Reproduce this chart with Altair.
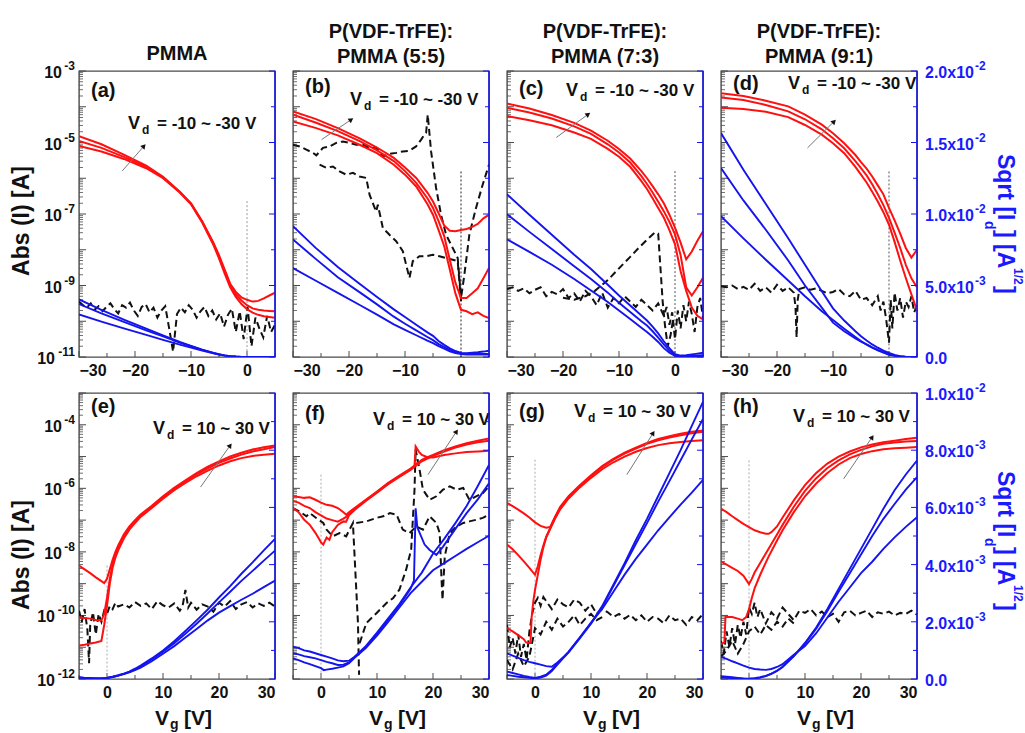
import math
import altair as alt
import pandas as pd

# ---------------------------------------------------------------- layout / style
W, H = 196, 286
FONT = "Liberation Sans"
RED = "#ff1010"
BLUE = "#1414ee"
LBLUE = "#1a1aff"
BLACK = "#111111"
FRAME = "#4a4a4a"

# ---------------------------------------------------------------- data
# gate voltage grids
TOP_V = [-30, -26, -22, -18, -15, -12, -10, -8, -6, -5, -4, -3, -2, -1, 0, 1, 2, 3, 4, 5]
BOT_V = [-5, -4, -3, -2, -1, 0, 1, 2, 3, 4, 5, 6, 8, 10, 12, 14, 16, 18, 20, 22, 24, 26, 28, 30]

# red curves: log10 |I| (A);  blue curves: sqrt(I) in 1e-3 A^1/2;  black dashed: log10 |Ig|
# (a) PMMA, Vd = -10 ~ -30 V
A_RED_30 = [-4.82, -5.05, -5.34, -5.65, -5.96, -6.38, -6.70, -7.20, -7.80, -8.15, -8.55, -8.95, -9.18, -9.33, -9.40, -9.45, -9.43, -9.36, -9.28, -9.20]
A_RED_20 = [-4.96, -5.15, -5.40, -5.68, -5.97, -6.39, -6.71, -7.22, -7.83, -8.20, -8.60, -9.00, -9.25, -9.42, -9.55, -9.64, -9.68, -9.70, -9.71, -9.72]
A_RED_10 = [-5.10, -5.25, -5.46, -5.72, -6.00, -6.40, -6.73, -7.24, -7.86, -8.24, -8.66, -9.05, -9.32, -9.52, -9.66, -9.76, -9.82, -9.86, -9.88, -9.90]
A_BLUE_30 = [4.03, 3.30, 2.62, 1.98, 1.52, 1.05, 0.78, 0.52, 0.29, 0.19, 0.11, 0.06, 0.03, 0.01, 0, 0, 0, 0, 0, 0]
A_BLUE_20 = [3.70, 3.05, 2.45, 1.86, 1.44, 1.00, 0.75, 0.50, 0.28, 0.18, 0.11, 0.06, 0.03, 0.01, 0, 0, 0, 0, 0, 0]
A_BLUE_10 = [2.98, 2.48, 2.00, 1.55, 1.20, 0.86, 0.66, 0.45, 0.25, 0.17, 0.10, 0.05, 0.02, 0.01, 0, 0, 0, 0, 0, 0]
A_BLK_V = [-30, -29.3, -28.6, -27.9, -27.2, -26.5, -25.8, -25.1, -24.4, -23.7, -23, -22.3, -21.6, -20.9, -20.2, -19.5, -18.8,
           -18.1, -17.4, -16.7, -16, -15.3, -14.6, -13.9, -13.2, -12.5, -11.8, -11.1, -10.4, -9.7, -9, -8.3, -7.6, -6.9,
           -6.2, -5.5, -4.8, -4.1, -3.4, -2.7, -2, -1.3, -0.6, 0.1, 0.8, 1.5, 2.2, 2.9, 3.6, 4.3, 5]
A_BLK = [-9.45, -9.55, -9.62, -9.50, -9.68, -9.58, -9.72, -9.60, -9.50, -9.66, -9.78, -9.55, -9.62, -9.48, -9.70, -9.85,
         -9.60, -9.52, -9.75, -9.62, -9.90, -9.70, -9.58, -10.2, -10.85, -9.80, -9.62, -9.75, -9.55, -9.68, -9.90, -9.72,
         -9.60, -9.85, -9.70, -9.95, -9.78, -10.15, -9.82, -9.65, -10.3, -9.72, -10.5, -9.60, -10.7, -9.9, -10.2, -10.45,
         -9.85, -10.3, -10.1]

# (b) 5:5
B_RED_30 = [-4.13, -4.34, -4.60, -4.89, -5.14, -5.43, -5.70, -5.99, -6.40, -6.65, -6.98, -7.32, -7.47, -7.48, -7.45, -7.42, -7.36, -7.28, -7.12, -7.02]
B_RED_20 = [-4.22, -4.44, -4.68, -4.97, -5.22, -5.52, -5.80, -6.13, -6.56, -6.83, -7.20, -7.62, -8.28, -8.92, -9.35, -9.35, -9.22, -9.08, -8.80, -8.51]
B_RED_10 = [-4.41, -4.59, -4.80, -5.07, -5.30, -5.62, -5.90, -6.23, -6.72, -7.02, -7.45, -7.90, -8.55, -9.22, -9.68, -9.72, -9.80, -9.75, -9.85, -9.91]
B_BLUE_30 = [9.14, 7.65, 6.30, 5.08, 4.20, 3.33, 2.80, 2.25, 1.72, 1.48, 1.12, 0.85, 0.60, 0.42, 0.28, 0.27, 0.30, 0.33, 0.38, 0.44]
B_BLUE_20 = [8.21, 6.88, 5.58, 4.50, 3.68, 2.82, 2.33, 1.86, 1.40, 1.18, 0.90, 0.70, 0.48, 0.35, 0.25, 0.22, 0.22, 0.22, 0.22, 0.22]
B_BLUE_10 = [6.22, 5.35, 4.48, 3.62, 2.96, 2.28, 1.90, 1.52, 1.15, 0.97, 0.76, 0.58, 0.40, 0.28, 0.20, 0.18, 0.18, 0.18, 0.18, 0.18]
B_BLK1_V = [-30.0, -28.81, -27.62, -26.43, -25.84, -24.65, -23.46, -22.28, -21.09, -19.90, -18.71, -17.52, -16.33, -15.15,
            -13.96, -12.77, -11.58, -10.39, -9.20, -8.02, -7.12, -6.53, -6.23, -5.94, -5.34, -4.45, -3.56, -2.67, -1.48,
            -0.59, 0.01, 0.60, 1.49, 2.68, 3.87, 5.0]
B_BLK1 = [-5.06, -5.11, -5.20, -5.29, -5.36, -5.15, -5.11, -5.01, -4.97, -5.01, -5.06, -5.06, -5.15, -5.15, -5.39, -5.32,
          -5.29, -5.25, -5.23, -5.11, -4.92, -4.78, -4.73, -4.22, -5.25, -6.27, -7.02, -7.58, -7.95, -8.23, -9.35, -8.70,
          -7.58, -6.83, -6.18, -5.62]
B_BLK2_V = [-25.25, -24.06, -22.87, -21.68, -20.49, -19.30, -18.12, -16.93, -16.33, -15.15, -14.85, -13.96, -12.77, -11.58,
            -10.39, -9.80, -9.20, -8.61, -7.42, -6.23, -5.04, -3.86, -2.67, -1.48, -0.59, 0.01]
B_BLK2 = [-5.62, -5.71, -5.67, -5.81, -5.90, -5.85, -5.95, -5.99, -6.46, -6.93, -6.74, -7.39, -7.58, -7.76, -8.04, -8.42,
          -8.79, -8.32, -8.18, -8.18, -8.14, -8.18, -8.23, -8.28, -8.32, -9.44]

# (c) 7:3
C_RED_30 = [-3.91, -4.05, -4.23, -4.45, -4.67, -4.95, -5.18, -5.45, -5.80, -6.00, -6.22, -6.45, -6.70, -7.02, -7.38, -7.80, -8.27, -8.05, -7.75, -7.48]
C_RED_20 = [-4.03, -4.16, -4.33, -4.55, -4.76, -5.05, -5.28, -5.56, -5.94, -6.16, -6.40, -6.66, -6.92, -7.22, -7.57, -8.15, -9.05, -9.28, -9.05, -8.78]
C_RED_10 = [-4.26, -4.38, -4.52, -4.72, -4.90, -5.18, -5.40, -5.68, -6.08, -6.30, -6.56, -6.83, -7.10, -7.45, -7.85, -8.60, -9.15, -9.62, -9.85, -9.95]
C_BLUE_30 = [11.38, 9.95, 8.55, 7.15, 6.15, 5.05, 4.30, 3.60, 2.90, 2.55, 2.12, 1.65, 1.10, 0.62, 0.19, 0.10, 0.12, 0.18, 0.24, 0.30]
C_BLUE_20 = [9.98, 8.75, 7.55, 6.35, 5.45, 4.50, 3.80, 3.15, 2.50, 2.20, 1.80, 1.35, 0.88, 0.45, 0.12, 0.06, 0.06, 0.08, 0.10, 0.12]
C_BLUE_10 = [8.23, 7.35, 6.45, 5.45, 4.65, 3.85, 3.25, 2.65, 2.05, 1.75, 1.42, 1.05, 0.62, 0.30, 0.08, 0.04, 0.04, 0.05, 0.06, 0.08]
C_BLK1_V = [-30, -29, -28, -27, -26, -25, -24, -23, -22, -21, -20, -19, -18, -17, -16, -15, -14, -13, -12, -11, -10, -9, -8,
            -7, -6, -5, -4, -3, -2, -1.5, -1, -0.5, 0, 0.5, 1, 1.5, 2, 2.5, 3, 3.5, 4, 4.5, 5]
C_BLK1 = [-9.10, -9.05, -9.15, -9.08, -9.22, -9.12, -9.05, -9.30, -9.18, -9.25, -9.10, -9.35, -9.22, -9.45, -9.15, -9.30,
          -9.55, -9.20, -9.62, -9.35, -9.50, -9.30, -9.45, -9.60, -9.40, -9.55, -9.70, -9.50, -9.85, -9.60, -10.1, -9.75,
          -10.5, -9.70, -10.2, -9.55, -10.0, -9.45, -9.80, -10.3, -9.60, -9.35, -9.90]
C_BLK2_V = [-20, -18, -16, -14.3, -12, -10, -8, -6.5, -5, -3.6, -3.0, -2.6, -2.2, -1.8, -1.3, -0.8, -0.3]
C_BLK2 = [-9.34, -9.40, -9.30, -9.15, -8.85, -8.52, -8.20, -7.95, -7.72, -7.52, -7.55, -8.50, -9.45, -10.1, -10.7, -10.4, -9.9]

# (d) 9:1
D_RED_30 = [-3.62, -3.70, -3.83, -3.99, -4.22, -4.50, -4.74, -5.02, -5.35, -5.55, -5.73, -5.95, -6.20, -6.45, -6.83, -7.18, -7.55, -7.95, -8.22, -8.00]
D_RED_20 = [-3.74, -3.81, -3.95, -4.13, -4.35, -4.63, -4.88, -5.16, -5.52, -5.72, -5.92, -6.17, -6.45, -6.75, -7.11, -7.52, -7.95, -8.42, -8.80, -9.05]
D_RED_10 = [-4.03, -4.06, -4.14, -4.29, -4.51, -4.78, -5.02, -5.30, -5.68, -5.90, -6.12, -6.38, -6.65, -6.95, -7.30, -7.78, -8.30, -8.79, -9.25, -9.70]
D_BLUE_30 = [15.66, 13.10, 10.70, 8.30, 6.45, 4.60, 3.40, 2.55, 1.80, 1.45, 1.15, 0.88, 0.65, 0.45, 0.28, 0.14, 0.06, 0.02, 0, 0]
D_BLUE_20 = [13.22, 10.95, 8.90, 6.75, 5.00, 3.45, 2.40, 1.80, 1.30, 1.08, 0.88, 0.68, 0.50, 0.34, 0.21, 0.10, 0.04, 0.01, 0, 0]
D_BLUE_10 = [9.84, 8.30, 6.80, 5.35, 4.25, 3.20, 2.58, 1.98, 1.40, 1.12, 0.86, 0.65, 0.47, 0.30, 0.16, 0.08, 0.03, 0.01, 0, 0]
D_BLK_V = [-30, -29, -28, -27, -26, -25, -24, -23, -22, -21, -20, -19, -18, -17, -16.7, -16.5, -16.3, -16, -15, -14, -13,
           -12, -11, -10, -9, -8, -7, -6, -5, -4, -3, -2, -1.5, -1, -0.5, 0, 0.3, 0.6, 1, 1.5, 2, 2.5, 3, 3.5, 4, 4.5, 5]
D_BLK = [-9.02, -9.05, -9.00, -9.10, -9.04, -9.12, -8.95, -9.15, -9.05, -9.20, -8.98, -9.15, -9.05, -9.20, -9.60, -10.45,
         -9.40, -9.10, -9.05, -9.12, -9.08, -9.15, -9.22, -9.18, -9.10, -9.25, -9.30, -9.15, -9.40, -9.35, -9.55, -9.30,
         -9.70, -9.45, -9.95, -10.6, -9.40, -10.2, -9.20, -9.70, -9.35, -9.90, -9.45, -9.60, -9.30, -9.75, -9.55]

# (e) PMMA, Vd = 10 ~ 30 V
E_RED_V = [-5, -4, -3, -2, -1, -0.5, 0, 0.5, 1, 1.5, 2, 3, 4, 5, 6, 8, 10, 12, 14, 16, 18, 20, 22, 24, 26, 28, 30]
E_RED_30 = [-8.43, -8.55, -8.67, -8.80, -8.92, -8.98, -8.85, -8.55, -8.25, -8.00, -7.80, -7.45, -7.20, -7.00, -6.82, -6.55,
            -6.25, -5.98, -5.75, -5.52, -5.32, -5.15, -5.00, -4.88, -4.78, -4.71, -4.65]
E_RED_20 = [-10.06, -10.08, -10.10, -10.14, -10.16, -9.95, -9.45, -8.85, -8.40, -8.10, -7.88, -7.52, -7.25, -7.04, -6.86,
            -6.58, -6.28, -6.01, -5.78, -5.56, -5.37, -5.20, -5.06, -4.94, -4.84, -4.77, -4.70]
E_RED_10 = [-10.95, -10.92, -10.88, -10.85, -10.80, -10.30, -9.70, -9.00, -8.50, -8.18, -7.95, -7.58, -7.30, -7.09, -6.90,
            -6.62, -6.33, -6.06, -5.83, -5.62, -5.44, -5.28, -5.15, -5.05, -4.98, -4.94, -4.91]
E_BLUE_30 = [0.05, 0.04, 0.03, 0.02, 0.02, 0.04, 0.08, 0.13, 0.19, 0.26, 0.36, 0.47, 0.72, 1.00, 1.32, 1.68, 2.05, 2.43, 2.85, 3.25, 3.68, 4.08, 4.50, 4.90]
E_BLUE_20 = [0.05, 0.04, 0.03, 0.02, 0.02, 0.04, 0.07, 0.12, 0.18, 0.25, 0.34, 0.44, 0.68, 0.95, 1.25, 1.58, 1.93, 2.30, 2.68, 3.05, 3.43, 3.78, 4.14, 4.49]
E_BLUE_10 = [0.05, 0.04, 0.03, 0.02, 0.02, 0.04, 0.07, 0.12, 0.17, 0.23, 0.31, 0.40, 0.62, 0.88, 1.15, 1.45, 1.75, 2.05, 2.32, 2.55, 2.77, 2.98, 3.21, 3.44]
E_BLK_V = [-5, -4.5, -4, -3.5, -3.2, -3, -2.5, -2, -1.5, -1, -0.5, 0, 0.5, 1, 1.5, 2, 3, 4, 5, 6, 7, 8, 9, 10, 11, 12, 13,
           13.5, 14, 14.5, 15, 16, 17, 18, 19, 20, 21, 22, 23, 24, 25, 26, 27, 28, 29, 30]
E_BLK = [-9.85, -10.20, -9.80, -10.45, -11.50, -10.30, -9.90, -10.60, -9.95, -10.20, -9.85, -9.95, -9.70, -9.80, -9.60,
         -9.72, -9.65, -9.75, -9.58, -9.70, -9.62, -9.80, -9.55, -9.68, -9.75, -9.62, -9.85, -9.70, -9.20, -9.75, -9.60,
         -9.82, -9.65, -9.72, -9.88, -9.60, -9.72, -9.55, -9.80, -9.65, -9.58, -9.75, -9.62, -9.70, -9.60, -9.72]

# (f) 5:5
F_RED_UP_V = [-5, -4, -3, -2, -1, 0, 1, 2, 3, 4, 4.5, 5, 6, 8, 10, 12, 14, 16, 16.7, 17, 17.5, 18, 19, 20, 22, 24, 26, 28, 30]
F_RED_UP = [-6.25, -6.27, -6.30, -6.28, -6.36, -6.45, -6.52, -6.55, -6.62, -6.75, -6.83, -6.75, -6.62, -6.36, -6.10, -5.83,
            -5.60, -5.38, -5.28, -5.22, -5.18, -5.10, -5.02, -4.95, -4.80, -4.68, -4.58, -4.50, -4.43]
F_RED_MID_V = [-5, -4, -3, -2, -1, 0, 1, 2, 3, 4, 4.5, 5, 6, 8, 10, 12, 14, 16, 16.7, 16.9, 17.5, 18, 19, 20, 22, 24, 26, 28, 30]
F_RED_MID = [-6.40, -6.45, -6.55, -6.62, -6.75, -6.85, -6.95, -7.00, -7.05, -6.95, -6.90, -6.78, -6.64, -6.38, -6.12,
             -5.85, -5.62, -5.40, -5.30, -4.68, -4.85, -4.95, -5.02, -5.03, -4.95, -4.90, -4.86, -4.84, -4.82]
F_RED_LOW_V = [-5, -4, -3, -2, -1, -0.5, 0, 0.4, 1, 1.5, 2, 3, 4, 4.5, 5, 6, 8, 10, 12, 14, 16, 18, 20, 22, 24, 26, 28, 30]
F_RED_LOW = [-6.62, -6.75, -6.99, -7.15, -7.40, -7.55, -7.70, -7.77, -7.55, -7.62, -7.38, -7.15, -7.04, -7.05, -6.85,
             -6.68, -6.40, -6.14, -5.87, -5.64, -5.42, -5.15, -4.98, -4.84, -4.72, -4.62, -4.55, -4.50]
F_BLUE_UP = [1.13, 1.08, 1.00, 0.96, 0.90, 0.84, 0.78, 0.72, 0.65, 0.62, 0.64, 0.78, 1.15, 1.62, 2.12, 2.62, 3.20, 3.72, 4.38, 4.90, 5.45, 6.05, 6.75, 7.48]
F_BLUE_MID_V = [-5, -4, -3, -2, -1, 0, 1, 2, 3, 4, 5, 6, 8, 10, 12, 14, 16, 16.6, 16.9, 17.2, 17.9, 18.5, 19.4, 20.6, 21.8, 24, 26, 28, 30]
F_BLUE_MID = [0.90, 0.86, 0.80, 0.76, 0.72, 0.66, 0.60, 0.55, 0.49, 0.50, 0.58, 0.76, 1.12, 1.58, 2.08, 2.58, 3.15, 3.45,
              5.97, 5.30, 4.98, 4.70, 4.51, 4.34, 4.63, 5.25, 5.80, 6.28, 6.84]
F_BLUE_LOW_V = [-5, -4, -3, -2, -1, 0, 0.5, 1, 2, 3, 4, 5, 6, 8, 10, 12, 14, 16, 18, 20, 22, 24, 26, 28, 30]
F_BLUE_LOW = [0.72, 0.66, 0.58, 0.52, 0.45, 0.38, 0.31, 0.33, 0.36, 0.40, 0.44, 0.55, 0.74, 1.08, 1.52, 2.00, 2.50, 3.00,
              3.40, 3.80, 4.05, 4.30, 4.55, 4.78, 5.01]
F_BLK1_V = [-5, -3.8, -2.6, -2.0, -0.8, 0.4, 1.0, 2.1, 3.3, 4.5, 5.1, 5.7, 6.0, 6.3, 6.6, 6.8]
F_BLK1 = [-6.62, -6.73, -6.88, -6.78, -6.94, -7.09, -7.30, -7.51, -7.41, -7.51, -7.30, -7.09, -8.14, -9.19, -10.24, -11.87]
F_BLK2_V = [6.9, 8.1, 9.9, 11.7, 12.9, 14.0, 15.2, 16.1, 16.7, 16.9, 17.6, 18.2, 19.4, 20.6, 21.8, 23.0, 24.2, 25.4, 26.5, 27.7, 28.9, 30.0]
F_BLK2 = [-10.87, -10.24, -9.93, -9.61, -9.45, -9.19, -8.56, -7.93, -6.04, -4.78, -5.41, -6.04, -6.36, -6.25, -6.04, -5.94,
          -6.04, -5.99, -6.36, -6.25, -6.15, -5.94]
F_BLK3_V = [6.3, 8.1, 9.9, 11.1, 12.3, 13.5, 14.6, 15.8, 17.0, 18.2, 19.4, 20.6, 21.2, 21.5, 21.7, 22.1, 23.0, 24.2, 25.4, 26.5, 27.7, 28.9, 30.0]
F_BLK3 = [-7.09, -7.04, -6.93, -6.88, -6.78, -6.83, -7.30, -7.41, -7.20, -7.30, -6.88, -7.09, -7.41, -8.77, -9.51, -8.14,
          -7.41, -7.20, -7.09, -7.04, -6.99, -6.93, -6.83]

# (g) 7:3
G_RED_30_V = [-5, -4, -3, -2, -1, 0, 1, 2, 2.7, 3.5, 4.5, 6, 8, 10, 12, 14, 16, 18, 20, 22, 24, 26, 28, 30]
G_RED_30 = [-6.46, -6.56, -6.67, -6.79, -6.92, -7.07, -7.18, -7.24, -7.22, -6.92, -6.58, -6.25, -5.90, -5.59, -5.30, -5.07,
            -4.88, -4.72, -4.57, -4.45, -4.36, -4.28, -4.22, -4.18]
G_RED_20_V = [-5, -4, -3, -2, -1, 0, 0.5, 1, 1.5, 2, 2.7, 3.5, 4.5, 6, 8, 10, 12, 14, 16, 18, 20, 22, 24, 26, 28, 30]
G_RED_20 = [-7.77, -7.92, -8.10, -8.30, -8.50, -8.72, -8.45, -8.10, -7.80, -7.52, -7.26, -6.95, -6.62, -6.28, -5.93, -5.62,
            -5.33, -5.10, -4.91, -4.75, -4.60, -4.49, -4.40, -4.33, -4.27, -4.22]
G_RED_10_V = [-5, -4, -3, -2, -1.6, -1.2, -0.8, -0.6, -0.3, 0, 0.5, 1, 1.5, 2, 2.7, 3.5, 4.5, 6, 8, 10, 12, 14, 16, 18, 20,
              22, 24, 26, 28, 30]
G_RED_10 = [-10.40, -10.50, -10.62, -10.75, -10.85, -10.87, -10.87, -10.05, -9.55, -9.20, -8.72, -8.25, -7.85, -7.55,
            -7.28, -6.98, -6.66, -6.32, -5.97, -5.67, -5.40, -5.18, -5.00, -4.85, -4.73, -4.64, -4.58, -4.54, -4.51, -4.49]
G_BLUE_30 = [0.26, 0.21, 0.16, 0.11, 0.07, 0.04, 0.08, 0.15, 0.32, 0.55, 0.75, 0.95, 1.45, 1.95, 2.55, 3.30, 4.05, 4.85, 5.60, 6.40, 7.20, 8.00, 8.85, 9.69]
G_BLUE_20 = [0.14, 0.11, 0.08, 0.06, 0.04, 0.02, 0.05, 0.12, 0.28, 0.50, 0.72, 0.93, 1.42, 1.93, 2.52, 3.25, 3.98, 4.72, 5.45, 6.20, 6.92, 7.65, 8.38, 9.09]
G_BLUE_10 = [0.90, 0.82, 0.74, 0.66, 0.60, 0.55, 0.50, 0.45, 0.43, 0.58, 0.75, 0.95, 1.45, 1.97, 2.45, 3.05, 3.65, 4.20, 4.70, 5.20, 5.65, 6.10, 6.52, 6.96]
G_BLK1_V = [-5, -4.5, -4, -3.5, -3, -2.5, -2, -1.5, -1, -0.5, 0, 0.5, 1, 1.5, 2, 3, 4, 5, 6, 7, 8, 9, 10, 11, 12, 13, 14,
            15, 16, 17, 18, 19, 20, 21, 22, 23, 24, 25, 26, 27, 28, 29, 30]
G_BLK1 = [-10.30, -11.0, -10.7, -11.2, -10.6, -11.3, -10.9, -11.4, -10.5, -9.95, -9.60, -9.45, -9.70, -9.42, -9.55, -9.80,
          -9.50, -9.65, -9.75, -9.50, -9.60, -9.85, -9.65, -9.95, -9.80, -9.90, -10.05, -9.95, -10.10, -9.98, -10.15,
          -10.00, -10.20, -10.05, -10.10, -10.25, -10.00, -10.15, -10.10, -10.30, -10.05, -10.15, -9.95]
G_BLK2_V = [-5, -4, -3, -2, -1, 0, 1, 2, 3, 4, 5, 6, 7, 8, 9, 10, 11, 12]
G_BLK2 = [-11.4, -11.7, -11.2, -11.6, -11.3, -10.4, -10.6, -10.2, -10.45, -10.1, -10.35, -10.2, -10.0, -10.3, -10.1, -9.95, -10.15, -10.05]

# (h) 9:1
H_RED_30_V = [-5, -4, -3, -2, -1, 0, 1, 2, 3, 3.5, 4, 5, 6, 8, 10, 12, 14, 16, 18, 20, 22, 24, 26, 28, 30]
H_RED_30 = [-6.64, -6.75, -6.88, -7.00, -7.12, -7.22, -7.32, -7.38, -7.43, -7.43, -7.38, -7.20, -6.92, -6.38, -5.90, -5.52,
            -5.22, -5.00, -4.84, -4.71, -4.62, -4.55, -4.50, -4.45, -4.41]
H_RED_20_V = [-5, -4, -3, -2, -1, 0, 0.5, 1, 2, 3, 4, 5, 6, 8, 10, 12, 14, 16, 18, 20, 22, 24, 26, 28, 30]
H_RED_20 = [-8.31, -8.40, -8.50, -8.60, -8.75, -9.01, -8.85, -8.65, -8.35, -8.05, -7.75, -7.45, -7.15, -6.58, -6.08, -5.68,
            -5.36, -5.12, -4.93, -4.79, -4.68, -4.60, -4.56, -4.53, -4.51]
H_RED_10_V = [-5, -4.4, -4.2, -3, -2, -1.2, -0.5, 0, 0.5, 1, 2, 2.7, 3.5, 5, 6, 8, 10, 12, 14, 16, 18, 20, 22, 24, 26, 28, 30]
H_RED_10 = [-10.90, -10.85, -10.05, -10.05, -10.10, -10.15, -10.05, -9.80, -9.45, -9.15, -8.72, -8.45, -8.15, -7.64, -7.32,
            -6.75, -6.25, -5.85, -5.52, -5.25, -5.05, -4.92, -4.83, -4.77, -4.74, -4.72, -4.70]
H_BLUE_30 = [0.05, 0.04, 0.03, 0.02, 0.01, 0.00, 0.02, 0.05, 0.10, 0.18, 0.28, 0.42, 0.80, 1.26, 1.80, 2.45, 3.15, 3.85, 4.55, 5.25, 5.95, 6.60, 7.15, 7.64]
H_BLUE_20 = [0.10, 0.08, 0.06, 0.04, 0.02, 0.01, 0.03, 0.06, 0.11, 0.19, 0.29, 0.43, 0.80, 1.24, 1.76, 2.38, 3.05, 3.70, 4.35, 5.00, 5.60, 6.12, 6.62, 7.06]
H_BLUE_10 = [0.77, 0.70, 0.62, 0.55, 0.47, 0.40, 0.35, 0.33, 0.32, 0.35, 0.42, 0.52, 0.85, 1.15, 1.60, 2.15, 2.70, 3.20, 3.70, 4.10, 4.55, 4.95, 5.32, 5.66]
H_BLK1 = [-10.8, -11.2, -10.5, -11.0, -10.4, -10.9, -10.3, -10.7, -10.2, -10.6, -9.75, -9.95, -9.60, -10.05, -9.80, -10.25,
          -9.90, -10.10, -9.75, -9.95, -10.15, -9.85, -9.92, -9.80, -10.0, -9.88, -10.05, -9.95, -10.2, -9.90, -9.85, -10.0,
          -9.92, -9.85, -10.05, -9.90, -9.95, -9.88, -10.0, -9.92, -9.95, -9.85, -9.98]
H_BLK2_V = [-5, -4, -3, -2, -1, 0, 1, 2, 3, 4, 5, 6, 7, 8]
H_BLK2 = [-11.3, -11.1, -10.8, -11.2, -10.9, -10.5, -10.35, -10.6, -10.3, -10.45, -10.2, -10.35, -10.1, -10.25]

# dotted Vg = 0 guide: upper end (log10 A)
ZERO_TOP = {"a": -6.64, "b": -5.81, "c": -5.80, "d": -5.81, "e": -8.43, "f": -5.57, "g": -5.10, "h": -5.12}
# Vd arrows: (Vg, log10 I) start -> end
ARROWS = {
    "a": [(-22.3, -5.80), (-18.4, -5.10)], "b": [(-24.9, -4.92), (-19.6, -4.36)],
    "c": [(-21.2, -4.86), (-15.5, -4.21)], "d": [(-14.55, -5.15), (-9.8, -4.41)],
    "e": [(16.7, -5.96), (22.0, -4.65)], "f": [(19.1, -5.57), (24.2, -4.21)],
    "g": [(16.4, -5.57), (21.1, -4.26)], "h": [(16.9, -5.70), (22.0, -4.39)],
}

# texts
COL_TITLES = [["PMMA"], ["P(VDF-TrFE):", "PMMA (5:5)"], ["P(VDF-TrFE):", "PMMA (7:3)"], ["P(VDF-TrFE):", "PMMA (9:1)"]]
VD_TEXT_TOP = "= -10 ~ -30 V"
VD_TEXT_BOT = "= 10 ~ 30 V"
X_LABELS_TOP = [-30, -20, -10, 0]
X_LABELS_BOT = [0, 10, 20, 30]
LEFT_TICKS_TOP = [1e-3, 1e-5, 1e-7, 1e-9, 1e-11]
LEFT_EXP_TOP = ["-3", "-5", "-7", "-9", "-11"]
LEFT_TICKS_BOT = [1e-4, 1e-6, 1e-8, 1e-10, 1e-12]
LEFT_EXP_BOT = ["-4", "-6", "-8", "-10", "-12"]
RIGHT_TICKS_TOP = [0.0, 0.005, 0.01, 0.015, 0.02]
RIGHT_MANT_TOP = ["0.0", "5.0x10", "1.0x10", "1.5x10", "2.0x10"]
RIGHT_EXP_TOP = ["", "-3", "-2", "-2", "-2"]
RIGHT_TICKS_BOT = [0.0, 0.002, 0.004, 0.006, 0.008, 0.01]
RIGHT_MANT_BOT = ["0.0", "2.0x10", "4.0x10", "6.0x10", "8.0x10", "1.0x10"]
RIGHT_EXP_BOT = ["", "-3", "-3", "-3", "-3", "-2"]

PANELS = [
    dict(key="a", row=0, col=0, tag_y=20, vd=(49, 53),
         red=[(TOP_V, A_RED_30), (TOP_V, A_RED_20), (TOP_V, A_RED_10)],
         blue=[(TOP_V, A_BLUE_30), (TOP_V, A_BLUE_20), (TOP_V, A_BLUE_10)],
         black=[(A_BLK_V, A_BLK)], zcol="#9a9a9a"),
    dict(key="b", row=0, col=1, tag_y=16, vd=(57, 29),
         red=[(TOP_V, B_RED_30), (TOP_V, B_RED_20), (TOP_V, B_RED_10)],
         blue=[(TOP_V, B_BLUE_30), (TOP_V, B_BLUE_20), (TOP_V, B_BLUE_10)],
         black=[(B_BLK1_V, B_BLK1), (B_BLK2_V, B_BLK2)], zcol="#222222"),
    dict(key="c", row=0, col=2, tag_y=18, vd=(59, 20),
         red=[(TOP_V, C_RED_30), (TOP_V, C_RED_20), (TOP_V, C_RED_10)],
         blue=[(TOP_V, C_BLUE_30), (TOP_V, C_BLUE_20), (TOP_V, C_BLUE_10)],
         black=[(C_BLK1_V, C_BLK1), (C_BLK2_V, C_BLK2)], zcol="#555555"),
    dict(key="d", row=0, col=3, tag_y=13, vd=(67, 13),
         red=[(TOP_V, D_RED_30), (TOP_V, D_RED_20), (TOP_V, D_RED_10)],
         blue=[(TOP_V, D_BLUE_30), (TOP_V, D_BLUE_20), (TOP_V, D_BLUE_10)],
         black=[(D_BLK_V, D_BLK)], zcol="#555555"),
    dict(key="e", row=1, col=0, tag_y=14, vd=(74, 36),
         red=[(E_RED_V, E_RED_30), (E_RED_V, E_RED_20), (E_RED_V, E_RED_10)],
         blue=[(BOT_V, E_BLUE_30), (BOT_V, E_BLUE_20), (BOT_V, E_BLUE_10)],
         black=[(E_BLK_V, E_BLK)], zcol="#aaaaaa"),
    dict(key="f", row=1, col=1, tag_y=21, vd=(80, 27),
         red=[(F_RED_UP_V, F_RED_UP), (F_RED_MID_V, F_RED_MID), (F_RED_LOW_V, F_RED_LOW)],
         blue=[(BOT_V, F_BLUE_UP), (F_BLUE_MID_V, F_BLUE_MID), (F_BLUE_LOW_V, F_BLUE_LOW)],
         black=[(F_BLK1_V, F_BLK1), (F_BLK2_V, F_BLK2), (F_BLK3_V, F_BLK3)], zcol="#aaaaaa"),
    dict(key="g", row=1, col=2, tag_y=19, vd=(67, 19),
         red=[(G_RED_30_V, G_RED_30), (G_RED_20_V, G_RED_20), (G_RED_10_V, G_RED_10)],
         blue=[(BOT_V, G_BLUE_30), (BOT_V, G_BLUE_20), (BOT_V, G_BLUE_10)],
         black=[(G_BLK1_V, G_BLK1), (G_BLK2_V, G_BLK2)], zcol="#aaaaaa"),
    dict(key="h", row=1, col=3, tag_y=14, vd=(72, 24),
         red=[(H_RED_30_V, H_RED_30), (H_RED_20_V, H_RED_20), (H_RED_10_V, H_RED_10)],
         blue=[(BOT_V, H_BLUE_30), (BOT_V, H_BLUE_20), (BOT_V, H_BLUE_10)],
         black=[(G_BLK1_V, H_BLK1), (H_BLK2_V, H_BLK2)], zcol="#aaaaaa"),
]

ONE = pd.DataFrame({"k": [0]})


def lines_df(curves, conv):
    rows = []
    for ci, (vs, ys) in enumerate(curves):
        for i, (v, y) in enumerate(zip(vs, ys)):
            rows.append({"curve": ci, "i": i, "V": v, "val": conv(y)})
    return pd.DataFrame(rows)


def to_log(y):
    return 10.0 ** y


def to_sq(y):
    return y * 1e-3


def text(s, x, y, size, color=BLACK, align="left", angle=0, weight="bold"):
    return alt.Chart(ONE).mark_text(
        text=s, font=FONT, fontSize=size, fontWeight=weight, color=color,
        align=align, baseline="middle", angle=angle
    ).encode(x=alt.value(x), y=alt.value(y))


def build_panel(p):
    row, col = p["row"], p["col"]
    top = row == 0
    xdom = [-30, 5] if top else [-5, 30]
    lo_exp = -11 if top else -12
    ndec = -3 - lo_exp
    smax = 0.02 if top else 0.01
    sstep = 0.005 if top else 0.002

    xs = alt.Scale(domain=xdom, nice=False, zero=False)
    ls = alt.Scale(type="log", domain=[10.0 ** lo_exp, 1e-3], nice=False)
    ss = alt.Scale(domain=[0, smax], nice=False, zero=False)
    xaxis = alt.Axis(values=X_LABELS_TOP if top else X_LABELS_BOT, title=None, domain=False, ticks=False,
                     grid=False, labelFont=FONT, labelFontSize=16, labelFontWeight="bold",
                     labelColor=BLACK, labelPadding=5)
    X = alt.X("V:Q", scale=xs, axis=xaxis)
    YL = alt.Y("val:Q", scale=ls, axis=None)
    YS = alt.Y("val:Q", scale=ss, axis=None)

    L = []
    # inward ticks on the log (left) side
    maj = pd.DataFrame({"val": [10.0 ** e for e in range(lo_exp, -2)]})
    mnr = pd.DataFrame({"val": [m * 10.0 ** e for e in range(lo_exp, -3) for m in range(2, 10)]})
    L.append(alt.Chart(maj).mark_rule(color=FRAME, strokeWidth=1).encode(y=YL, x=alt.value(0), x2=alt.value(7)))
    L.append(alt.Chart(mnr).mark_rule(color=FRAME, strokeWidth=0.8).encode(y=YL, x=alt.value(0), x2=alt.value(4)))
    # inward ticks along the bottom
    xmaj = pd.DataFrame({"V": list(range(xdom[0] + (0 if top else 5), xdom[1] + 1, 10))})
    xmin = pd.DataFrame({"V": list(range(xdom[0] + (5 if top else 0), xdom[1] + 1, 10))})
    L.append(alt.Chart(xmaj).mark_rule(color=FRAME, strokeWidth=1).encode(x=X, y=alt.value(H), y2=alt.value(H - 6)))
    L.append(alt.Chart(xmin).mark_rule(color=FRAME, strokeWidth=1).encode(x=X, y=alt.value(H), y2=alt.value(H - 4)))
    # Vg = 0 guide
    zdf = pd.DataFrame({"V": [0], "val": [10.0 ** ZERO_TOP[p["key"]]], "val2": [10.0 ** lo_exp]})
    L.append(alt.Chart(zdf).mark_rule(color=p["zcol"], strokeWidth=1, strokeDash=[2, 2]).encode(
        x=X, y=YL, y2="val2:Q"))
    # gate leakage (black dashed)
    L.append(alt.Chart(lines_df(p["black"], to_log)).mark_line(
        color=BLACK, strokeWidth=2, strokeDash=[7, 4], clip=True).encode(
        x=X, y=YL, detail="curve:N", order="i:Q"))
    # drain current (red, log)
    L.append(alt.Chart(lines_df(p["red"], to_log)).mark_line(
        color=RED, strokeWidth=2, clip=True).encode(
        x=X, y=YL, detail="curve:N", order="i:Q"))
    # Vd arrow
    (v1, l1), (v2, l2) = ARROWS[p["key"]]
    adf = pd.DataFrame({"V": [v1, v2], "val": [10.0 ** l1, 10.0 ** l2]})
    L.append(alt.Chart(adf).mark_line(color="#777777", strokeWidth=1).encode(x=X, y=YL))
    dxp = (v2 - v1) * W / 35.0
    dyp = (l2 - l1) * H / ndec
    ang = math.degrees(math.atan2(dxp, dyp)) % 360
    L.append(alt.Chart(adf.iloc[[1]]).mark_point(shape="triangle-up", filled=True, size=32, color=BLACK,
                                                   opacity=1, angle=ang).encode(x=X, y=YL))
    # panel tag and Vd label
    L.append(text("(" + p["key"] + ")", 12, p["tag_y"], 20))
    x0, y0 = p["vd"]
    L.append(text("V", x0, y0, 18))
    L.append(text("d", x0 + 14, y0 + 6, 12))
    L.append(text(VD_TEXT_TOP if top else VD_TEXT_BOT, x0 + 29, y0, 17))

    # column heading (top row)
    if top:
        lines = COL_TITLES[col]
        if len(lines) == 1:
            L.append(text(lines[0], W / 2, -17, 20, align="center"))
        else:
            L.append(text(lines[0], W / 2, -39, 20, align="center"))
            L.append(text(lines[1], W / 2, -14, 20, align="center"))

    # left labels + title
    if col == 0:
        vals = LEFT_TICKS_TOP if top else LEFT_TICKS_BOT
        exps = LEFT_EXP_TOP if top else LEFT_EXP_BOT
        short = pd.DataFrame({"val": [v for v, e in zip(vals, exps) if len(e) == 2],
                              "exp": [e for e in exps if len(e) == 2]})
        longe = pd.DataFrame({"val": [v for v, e in zip(vals, exps) if len(e) == 3],
                              "exp": [e for e in exps if len(e) == 3]})
        for d, bx in ((short, -17), (longe, -24)):
            if len(d):
                L.append(alt.Chart(d).mark_text(text="10", font=FONT, fontSize=16, fontWeight="bold", color=BLACK,
                                                align="right", baseline="middle", dy=2).encode(y=YL, x=alt.value(bx)))
        allx = pd.DataFrame({"val": vals, "exp": exps})
        L.append(alt.Chart(allx).mark_text(font=FONT, fontSize=12, fontWeight="bold", color=BLACK,
                                           align="right", baseline="middle", dy=-5).encode(
            y=YL, x=alt.value(-4), text="exp:N"))
        L.append(text("Abs (I) [A]", -57, 150 if top else 162, 23, angle=270, align="center"))

    # x title (bottom row)
    if not top:
        L.append(text("V", 76, H + 40, 21))
        L.append(text("g", 91, H + 46, 14))
        L.append(text("[V]", 105, H + 40, 21))

    # right (sqrt) side
    R = []
    R.append(alt.Chart(lines_df(p["blue"], to_sq)).mark_line(
        color=BLUE, strokeWidth=1.9, clip=True).encode(
        x=X, y=YS, detail="curve:N", order="i:Q"))
    nsteps = int(round(smax / sstep))
    smaj = pd.DataFrame({"val": [k * sstep for k in range(nsteps + 1)]})
    smin = pd.DataFrame({"val": [(k + 0.5) * sstep for k in range(nsteps)]})
    R.append(alt.Chart(smaj).mark_rule(color=BLUE, strokeWidth=1).encode(y=YS, x=alt.value(W), x2=alt.value(W - 6)))
    R.append(alt.Chart(smin).mark_rule(color=BLUE, strokeWidth=1).encode(y=YS, x=alt.value(W), x2=alt.value(W - 4)))
    R.append(alt.Chart(ONE).mark_rule(color=BLUE, strokeWidth=1.5).encode(
        x=alt.value(W), y=alt.value(0), y2=alt.value(H)))
    if col == 3:
        rdf = pd.DataFrame({
            "val": RIGHT_TICKS_TOP if top else RIGHT_TICKS_BOT,
            "mant": RIGHT_MANT_TOP if top else RIGHT_MANT_BOT,
            "exp": RIGHT_EXP_TOP if top else RIGHT_EXP_BOT,
        })
        R.append(alt.Chart(rdf).mark_text(font=FONT, fontSize=16, fontWeight="bold", color=LBLUE, align="left",
                                          baseline="middle", dy=2).encode(y=YS, x=alt.value(W + 8), text="mant:N"))
        R.append(alt.Chart(rdf).mark_text(font=FONT, fontSize=12, fontWeight="bold", color=LBLUE, align="left",
                                          baseline="middle", dy=-5).encode(y=YS, x=alt.value(W + 58), text="exp:N"))
        y0 = 83 if top else 78
        R.append(text("Sqrt [I", 284, y0, 23, color=LBLUE, angle=90))
        R.append(text("d", 268, y0 + 67, 14, color=LBLUE, angle=90))
        R.append(text("] [A", 284, y0 + 76, 23, color=LBLUE, angle=90))
        R.append(text("1/2", 297, y0 + 114, 12, color=LBLUE, angle=90))
        R.append(text("]", 284, y0 + 132, 23, color=LBLUE, angle=90))

    return alt.layer(alt.layer(*L), alt.layer(*R)).resolve_scale(y="independent").properties(width=W, height=H)


charts = [build_panel(p) for p in PANELS]
chart = alt.concat(*charts, columns=4, spacing={"row": 36, "column": 18}, bounds="flush").properties(
    padding={"left": 10, "top": 21, "right": 0, "bottom": 0}
).configure_view(stroke=FRAME, strokeWidth=1.4)

chart.save("out.html", embed_options={"renderer": "svg", "actions": False})
